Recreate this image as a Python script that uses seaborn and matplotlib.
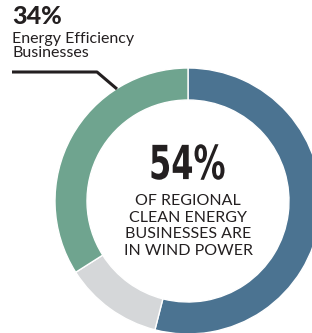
import matplotlib.pyplot as plt
import seaborn as sns
from matplotlib.textpath import TextPath
from matplotlib.patches import PathPatch
from matplotlib.font_manager import FontProperties
from matplotlib.transforms import Affine2D

# datos del gráfico
segmentos = ["Wind Power", "Other", "Energy Efficiency"]
porcentajes = [54, 12, 34]
colores = ["#4b7391", "#d5d7d9", "#6fa48f"]

titulo_centro = "54%"
texto_centro = "OF REGIONAL\nCLEAN ENERGY\nBUSINESSES ARE\nIN WIND POWER"
etiqueta_pct = "34%"
etiqueta_txt = "Energy Efficiency\nBusinesses"

sns.set_theme(style="white")
plt.rcParams["font.family"] = ["Lato", "DejaVu Sans"]

W, H = 312, 333
fig = plt.figure(figsize=(W / 100, H / 100), dpi=100)
ax = fig.add_axes([0, 0, 1, 1])

# dona: centro y radio en pixeles
cx, cy = 188, H - 201
ax.pie(porcentajes, colors=colores, startangle=90, counterclock=False,
       center=(cx, cy), radius=133,
       wedgeprops=dict(width=32, edgecolor="white", linewidth=1))
ax.set_xlim(0, W)
ax.set_ylim(0, H)
ax.set_aspect("equal")
ax.axis("off")

# "54%" en tipografía condensada (texto escalado horizontalmente)
tp = TextPath((0, 0), titulo_centro, size=47,
              prop=FontProperties(family="DejaVu Sans", weight="bold"))
bb = tp.get_extents()
tr = (Affine2D().translate(-(bb.x0 + bb.x1) / 2, -(bb.y0 + bb.y1) / 2)
      .scale(0.68, 1.0).translate(cx, H - 162))
ax.add_patch(PathPatch(tr.transform_path(tp), facecolor="#231f20", lw=0))

ax.text(cx, H - 226, texto_centro, ha="center", va="center", fontsize=11.5,
        linespacing=1.25, color="#231f20")

# etiqueta superior izquierda
ax.text(12, H - 17, etiqueta_pct, ha="left", va="center", fontsize=18,
        fontweight="black", color="#231f20")
ax.text(12, H - 46, etiqueta_txt, ha="left", va="center", fontsize=11.5,
        linespacing=0.95, color="#231f20")
ax.plot([12, 97, 117], [H - 72, H - 72, H - 89], color="#231f20", lw=2.2,
        solid_capstyle="butt")

fig.savefig("out.png", dpi=100)
